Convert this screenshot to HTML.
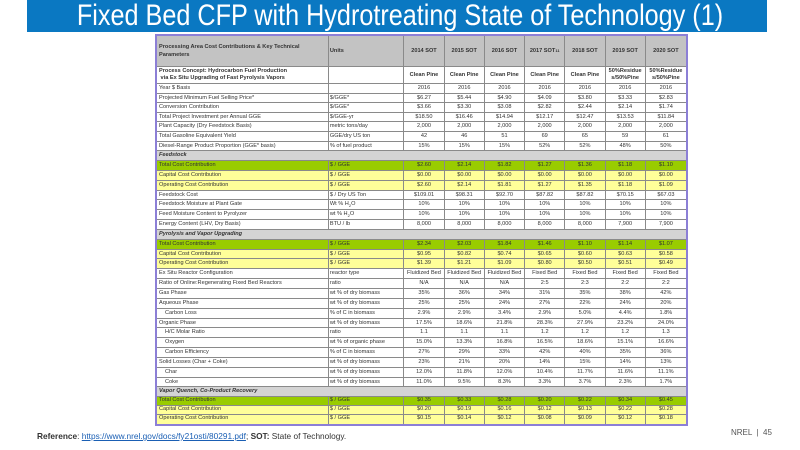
<!DOCTYPE html>
<html><head><meta charset="utf-8"><style>
*{margin:0;padding:0;box-sizing:border-box}
body{width:800px;height:450px;background:#fff;position:relative;overflow:hidden;font-family:"Liberation Sans",Arial,sans-serif}
#bar{position:absolute;left:27px;top:0;width:740px;height:32px;background:#0a78c2}
#title{position:absolute;left:0;top:1px;width:800px;text-align:center;color:#fff;font-size:30px;line-height:30px;transform:scaleX(0.84);transform-origin:400px 0;white-space:nowrap}
#tbl{position:absolute;left:155px;top:34px;width:533px;height:392px;border:2px solid #8c7fd6;background:#fff;overflow:hidden}
.r{display:flex;height:9.85px;border-bottom:1px solid #8a8a8a;font-size:5.6px;line-height:8.6px;color:#333;overflow:hidden}
.a{height:9.6px;line-height:8.4px}
.b{height:8.9px;line-height:7.8px}
.r div{border-right:1px solid #8a8a8a;overflow:hidden;white-space:nowrap;text-align:center}
.r div:first-child{width:173px;text-align:left;padding-left:2px}
.r div:nth-child(2){width:76px;text-align:left;padding-left:1px}
.r div:nth-child(n+3){width:40.5px}
.r div:last-child{border-right:none}
sub,sup{font-size:4px;line-height:0}
.h{height:31px;background:#c3c3c3;font-weight:bold;line-height:8px}
.h div{display:flex;align-items:center;justify-content:center}
.h div:first-child,.h div:nth-child(2){justify-content:flex-start}
.p{height:17px;line-height:6.8px;font-weight:bold}
.p div{display:flex;align-items:center;justify-content:center}
.p div:first-child{justify-content:flex-start}
.s{background:#d4d4d4;font-weight:bold;font-style:italic}
.s div{border-right:none}
.g{background:#99cc00}
.y{background:#ffff99}
.i div:first-child{padding-left:8px}
#ref{position:absolute;left:37px;top:431px;font-size:8.3px;color:#333;white-space:nowrap}
#ref a{color:#1a5fb4;text-decoration:underline}
#nrel{position:absolute;left:731px;top:428px;font-size:8px;color:#555}
</style></head><body>
<div id="bar"></div>
<div id="title">Fixed Bed CFP with Hydrotreating State of Technology (1)</div>
<div id="tbl">
<div class="r h"><div>Processing Area Cost Contributions &amp; Key Technical<br>Parameters</div><div>Units</div><div>2014 SOT</div><div>2015 SOT</div><div>2016 SOT</div><div>2017 SOT<sup>11</sup></div><div>2018 SOT</div><div>2019 SOT</div><div>2020 SOT</div></div>
<div class="r p"><div>Process Concept: Hydrocarbon Fuel Production<br>&nbsp;via Ex Situ Upgrading of Fast Pyrolysis Vapors</div><div></div><div>Clean Pine</div><div>Clean Pine</div><div>Clean Pine</div><div>Clean Pine</div><div>Clean Pine</div><div>50%Residue<br>s/50%Pine</div><div>50%Residue<br>s/50%Pine</div></div>
<div class="r a"><div>Year $ Basis</div><div></div><div>2016</div><div>2016</div><div>2016</div><div>2016</div><div>2016</div><div>2016</div><div>2016</div></div>
<div class="r a"><div>Projected Minimum Fuel Selling Price*</div><div>$/GGE*</div><div>$6.27</div><div>$5.44</div><div>$4.90</div><div>$4.09</div><div>$3.80</div><div>$3.33</div><div>$2.83</div></div>
<div class="r a"><div>Conversion Contribution</div><div>$/GGE*</div><div>$3.66</div><div>$3.30</div><div>$3.08</div><div>$2.82</div><div>$2.44</div><div>$2.14</div><div>$1.74</div></div>
<div class="r a"><div>Total Project Investment per Annual GGE</div><div>$/GGE-yr</div><div>$18.50</div><div>$16.46</div><div>$14.94</div><div>$12.17</div><div>$12.47</div><div>$13.53</div><div>$11.84</div></div>
<div class="r a"><div>Plant Capacity (Dry Feedstock Basis)</div><div>metric tons/day</div><div>2,000</div><div>2,000</div><div>2,000</div><div>2,000</div><div>2,000</div><div>2,000</div><div>2,000</div></div>
<div class="r a"><div>Total Gasoline Equivalent Yield</div><div>GGE/dry US ton</div><div>42</div><div>46</div><div>51</div><div>69</div><div>65</div><div>59</div><div>61</div></div>
<div class="r a"><div>Diesel-Range Product Proportion (GGE* basis)</div><div>% of fuel product</div><div>15%</div><div>15%</div><div>15%</div><div>52%</div><div>52%</div><div>48%</div><div>50%</div></div>
<div class="r s"><div>Feedstock</div><div></div><div></div><div></div><div></div><div></div><div></div><div></div><div></div></div>
<div class="r g"><div>Total Cost Contribution</div><div>$ / GGE</div><div>$2.60</div><div>$2.14</div><div>$1.82</div><div>$1.27</div><div>$1.36</div><div>$1.18</div><div>$1.10</div></div>
<div class="r y"><div>Capital Cost Contribution</div><div>$ / GGE</div><div>$0.00</div><div>$0.00</div><div>$0.00</div><div>$0.00</div><div>$0.00</div><div>$0.00</div><div>$0.00</div></div>
<div class="r y"><div>Operating Cost Contribution</div><div>$ / GGE</div><div>$2.60</div><div>$2.14</div><div>$1.81</div><div>$1.27</div><div>$1.35</div><div>$1.18</div><div>$1.09</div></div>
<div class="r"><div>Feedstock Cost</div><div>$ / Dry US Ton</div><div>$109.01</div><div>$98.31</div><div>$92.70</div><div>$87.82</div><div>$87.82</div><div>$70.15</div><div>$67.03</div></div>
<div class="r"><div>Feedstock Moisture at Plant Gate</div><div>Wt % H<sub>2</sub>O</div><div>10%</div><div>10%</div><div>10%</div><div>10%</div><div>10%</div><div>10%</div><div>10%</div></div>
<div class="r"><div>Feed Moisture Content to Pyrolyzer</div><div>wt % H<sub>2</sub>O</div><div>10%</div><div>10%</div><div>10%</div><div>10%</div><div>10%</div><div>10%</div><div>10%</div></div>
<div class="r"><div>Energy Content (LHV, Dry Basis)</div><div>BTU / lb</div><div>8,000</div><div>8,000</div><div>8,000</div><div>8,000</div><div>8,000</div><div>7,900</div><div>7,900</div></div>
<div class="r s"><div>Pyrolysis and Vapor Upgrading</div><div></div><div></div><div></div><div></div><div></div><div></div><div></div><div></div></div>
<div class="r g"><div>Total Cost Contribution</div><div>$ / GGE</div><div>$2.34</div><div>$2.03</div><div>$1.84</div><div>$1.46</div><div>$1.10</div><div>$1.14</div><div>$1.07</div></div>
<div class="r y"><div>Capital Cost Contribution</div><div>$ / GGE</div><div>$0.95</div><div>$0.82</div><div>$0.74</div><div>$0.65</div><div>$0.60</div><div>$0.63</div><div>$0.58</div></div>
<div class="r y"><div>Operating Cost Contribution</div><div>$ / GGE</div><div>$1.39</div><div>$1.21</div><div>$1.09</div><div>$0.80</div><div>$0.50</div><div>$0.51</div><div>$0.49</div></div>
<div class="r"><div>Ex Situ Reactor Configuration</div><div>reactor type</div><div>Fluidized Bed</div><div>Fluidized Bed</div><div>Fluidized Bed</div><div>Fixed Bed</div><div>Fixed Bed</div><div>Fixed Bed</div><div>Fixed Bed</div></div>
<div class="r"><div>Ratio of Online:Regenerating Fixed Bed Reactors</div><div>ratio</div><div>N/A</div><div>N/A</div><div>N/A</div><div>2:5</div><div>2:3</div><div>2:2</div><div>2:2</div></div>
<div class="r"><div>Gas Phase</div><div>wt % of dry biomass</div><div>35%</div><div>36%</div><div>34%</div><div>31%</div><div>35%</div><div>38%</div><div>42%</div></div>
<div class="r"><div>Aqueous Phase</div><div>wt % of dry biomass</div><div>25%</div><div>25%</div><div>24%</div><div>27%</div><div>22%</div><div>24%</div><div>20%</div></div>
<div class="r i"><div>Carbon Loss</div><div>% of C in biomass</div><div>2.9%</div><div>2.9%</div><div>3.4%</div><div>2.9%</div><div>5.0%</div><div>4.4%</div><div>1.8%</div></div>
<div class="r"><div>Organic Phase</div><div>wt % of dry biomass</div><div>17.5%</div><div>18.6%</div><div>21.8%</div><div>28.3%</div><div>27.9%</div><div>23.2%</div><div>24.0%</div></div>
<div class="r i"><div>H/C Molar Ratio</div><div>ratio</div><div>1.1</div><div>1.1</div><div>1.1</div><div>1.2</div><div>1.2</div><div>1.2</div><div>1.3</div></div>
<div class="r i"><div>Oxygen</div><div>wt % of organic phase</div><div>15.0%</div><div>13.3%</div><div>16.8%</div><div>16.5%</div><div>18.6%</div><div>15.1%</div><div>16.6%</div></div>
<div class="r i"><div>Carbon Efficiency</div><div>% of C in biomass</div><div>27%</div><div>29%</div><div>33%</div><div>42%</div><div>40%</div><div>35%</div><div>36%</div></div>
<div class="r"><div>Solid Losses (Char + Coke)</div><div>wt % of dry biomass</div><div>23%</div><div>21%</div><div>20%</div><div>14%</div><div>15%</div><div>14%</div><div>13%</div></div>
<div class="r i"><div>Char</div><div>wt % of dry biomass</div><div>12.0%</div><div>11.8%</div><div>12.0%</div><div>10.4%</div><div>11.7%</div><div>11.6%</div><div>11.1%</div></div>
<div class="r i"><div>Coke</div><div>wt % of dry biomass</div><div>11.0%</div><div>9.5%</div><div>8.3%</div><div>3.3%</div><div>3.7%</div><div>2.3%</div><div>1.7%</div></div>
<div class="r s"><div>Vapor Quench, Co-Product Recovery</div><div></div><div></div><div></div><div></div><div></div><div></div><div></div><div></div></div>
<div class="r g b"><div>Total Cost Contribution</div><div>$ / GGE</div><div>$0.35</div><div>$0.33</div><div>$0.28</div><div>$0.20</div><div>$0.22</div><div>$0.34</div><div>$0.45</div></div>
<div class="r y b"><div>Capital Cost Contribution</div><div>$ / GGE</div><div>$0.20</div><div>$0.19</div><div>$0.16</div><div>$0.12</div><div>$0.13</div><div>$0.22</div><div>$0.28</div></div>
<div class="r y b" style="border-bottom:none"><div>Operating Cost Contribution</div><div>$ / GGE</div><div>$0.15</div><div>$0.14</div><div>$0.12</div><div>$0.08</div><div>$0.09</div><div>$0.12</div><div>$0.18</div></div>
</div>
<div id="ref"><b>Reference</b>: <a>https://www.nrel.gov/docs/fy21osti/80291.pdf</a>; <b>SOT:</b> State of Technology.</div>
<div id="nrel">NREL &nbsp;|&nbsp; 45</div>
</body></html>
